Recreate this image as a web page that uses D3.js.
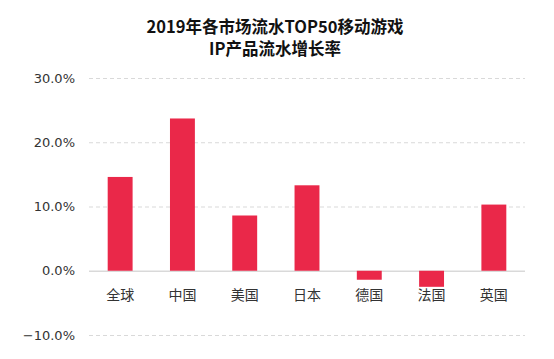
<!DOCTYPE html>
<html>
<head>
<meta charset="utf-8">
<script src="https://cdn.jsdelivr.net/npm/d3@7"></script>
<style>
  body { margin: 0; background: #fff; }
  text { font-family: "Noto Sans CJK SC", "Noto Sans", sans-serif; }
</style>
</head>
<body>
<div id="chart"></div>
<script>
const markets = ["全球", "中国", "美国", "日本", "德国", "法国", "英国"];
const growth = [0.146, 0.237, 0.086, 0.133, -0.014, -0.025, 0.103];
const yTicks = [-0.1, 0, 0.1, 0.2, 0.3];
const titleLines = ["2019年各市场流水TOP50移动游戏", "IP产品流水增长率"];

const W = 554, H = 359;
const margin = { top: 78, right: 29, bottom: 24, left: 89 };
const width = W - margin.left - margin.right,
  height = H - margin.top - margin.bottom;

const svg = d3.select("#chart")
  .append("svg")
  .attr("width", W)
  .attr("height", H);

svg.selectAll(".title")
  .data(titleLines)
  .enter()
  .append("text")
  .attr("class", "title")
  .attr("x", 275)
  .attr("y", (d, i) => 33 + i * 22)
  .attr("text-anchor", "middle")
  .style("font-size", "16.5px")
  .style("font-weight", "bold")
  .style("fill", "#111")
  .text(d => d);

const g = svg.append("g")
  .attr("transform", `translate(${margin.left}, ${margin.top})`);

const x = d3.scaleBand().domain(markets).range([0, width])
  .paddingInner(0.6).paddingOuter(0.3);
const y = d3.scaleLinear().domain([-0.1, 0.3]).range([257, 0]);

// grid lines
g.append("g")
  .call(d3.axisLeft(y).tickValues(yTicks).tickSize(-width).tickFormat(d3.format(".1%")))
  .call(a => a.select(".domain").remove())
  .call(a => a.selectAll(".tick line")
    .attr("stroke", "#d9d9d9")
    .attr("stroke-width", d => d === 0 ? 1.5 : 1)
    .attr("stroke-dasharray", d => d === 0 ? null : "4,3"))
  .call(a => a.selectAll(".tick text")
    .attr("x", -14)
    .style("font-family", "'DejaVu Sans', sans-serif")
    .style("font-size", "13px")
    .style("fill", "#333"));

g.selectAll(".bar")
  .data(markets)
  .enter()
  .append("rect")
  .attr("class", "bar")
  .attr("x", d => x(d))
  .attr("y", (d, i) => y(Math.max(0, growth[i])))
  .attr("width", x.bandwidth())
  .attr("height", (d, i) => Math.abs(y(growth[i]) - y(0)))
  .attr("fill", "#ea2849");

g.append("g")
  .attr("transform", `translate(0, ${y(0)})`)
  .call(d3.axisBottom(x).tickSize(0).tickPadding(19))
  .call(a => a.select(".domain").remove())
  .selectAll("text")
  .style("font-size", "14px")
  .style("fill", "#333");
</script>
</body>
</html>
